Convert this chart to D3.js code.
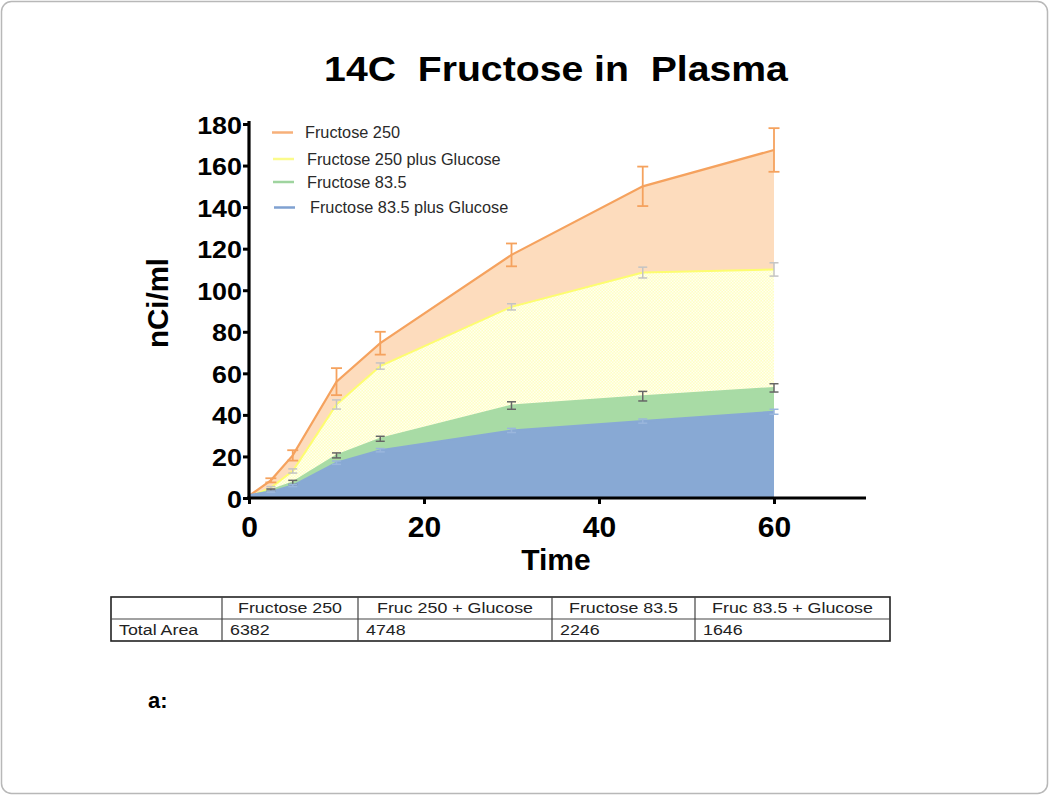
<!DOCTYPE html>
<html><head><meta charset="utf-8">
<script src="https://cdn.jsdelivr.net/npm/d3@7"></script>
<style>
html,body{margin:0;padding:0;background:#fff;}
svg{display:block;font-family:"Liberation Sans",Arial,sans-serif;}
</style></head>
<body>
<svg id="chart" width="1050" height="796"></svg>
<script>
// ---- data ----
const times = [0, 2.5, 5, 10, 15, 30, 45, 60];
const seriesNames = ["Fructose 250", "Fructose 250 plus Glucose", "Fructose 83.5", "Fructose 83.5 plus Glucose"];
const fru250      = [1.0, 8.5, 20.5, 56.0, 74.5, 117.0, 150.0, 167.5];
const fru250Err   = [0, 1.0, 2.5, 6.5, 5.5, 5.5, 9.5, 10.5];
const fru250Glu   = [0.5, 5.0, 13.0, 45.0, 63.5, 92.0, 108.5, 110.0];
const fru250GluErr= [0, 0.5, 1.0, 2.2, 1.5, 1.5, 2.6, 3.2];
const fru835      = [0.8, 3.8, 7.5, 20.5, 28.5, 44.5, 49.0, 53.0];
const fru835Err   = [0, 0.5, 1.0, 1.2, 1.2, 1.8, 2.3, 2.0];
const fru835Glu   = [1.5, 3.0, 6.0, 17.0, 23.0, 32.5, 37.0, 41.5];
const fru835GluErr= [0, 0.3, 0.5, 0.8, 0.8, 1.0, 1.0, 1.2];
const xTicks = [0, 20, 40, 60];
const yTicks = [0, 20, 40, 60, 80, 100, 120, 140, 160, 180];
const tableHeaders = ["", "Fructose 250", "Fruc 250 + Glucose", "Fructose 83.5", "Fruc 83.5 + Glucose"];
const tableRow = ["Total Area", "6382", "4748", "2246", "1646"];

// ---- styles ----
const fills   = ["#fddcbd", "url(#dots)", "#a8dba5", "#88a9d4"];
const strokes = ["#f5a25e", "#fdfd70", "#a8dba5", "#88a9d4"];
const errCols = ["#f5a25e", "#c4c4c4", "#666666", "#9ab6dc"];
const legendCols = ["#f7b07a", "#fbfb8c", "#9fd49f", "#7fa1d1"];

const svg = d3.select("#chart");
const defs = svg.append("defs");
const pat = defs.append("pattern").attr("id","dots").attr("width",3).attr("height",3)
  .attr("patternUnits","userSpaceOnUse");
pat.append("rect").attr("width",3).attr("height",3).attr("fill","#ffffc4");
pat.append("rect").attr("width",1.5).attr("height",1.5).attr("fill","#fffff0");
pat.append("rect").attr("x",1.5).attr("y",1.5).attr("width",1.5).attr("height",1.5).attr("fill","#fffff0");

// frame
svg.append("rect").attr("x",1.5).attr("y",1.5).attr("width",1046).attr("height",792)
  .attr("rx",10).attr("fill","#fff").attr("stroke","#b8b8b8").attr("stroke-width",1.5);

const x = d3.scaleLinear().domain([0,70]).range([249, 861.5]);
const y = d3.scaleLinear().domain([0,180]).range([498, 124]);

const series = [
  {vals: fru250, err: fru250Err},
  {vals: fru250Glu, err: fru250GluErr},
  {vals: fru835, err: fru835Err},
  {vals: fru835Glu, err: fru835GluErr}
];

const area = d3.area().x((d,i)=>x(times[i])).y0(y(0)).y1(d=>y(d));
const line = d3.line().x((d,i)=>x(times[i])).y(d=>y(d));

series.forEach((s,k)=>{
  svg.append("path").attr("d", area(s.vals)).attr("fill", fills[k]);
  svg.append("path").attr("d", line(s.vals)).attr("fill","none")
    .attr("stroke", strokes[k]).attr("stroke-width", k===0?2.2:2);
});

// error bars
series.forEach((s,k)=>{
  const g = svg.append("g").attr("stroke", errCols[k]).attr("stroke-width", k===0?1.8:1.5).attr("fill","none");
  const cw = k===0?5.5:4.5;
  s.vals.forEach((v,i)=>{
    const e = s.err[i]; if(!e) return;
    const xi = x(times[i]);
    g.append("line").attr("x1",xi).attr("x2",xi).attr("y1",y(v-e)).attr("y2",y(v+e));
    g.append("line").attr("x1",xi-cw).attr("x2",xi+cw).attr("y1",y(v-e)).attr("y2",y(v-e));
    g.append("line").attr("x1",xi-cw).attr("x2",xi+cw).attr("y1",y(v+e)).attr("y2",y(v+e));
  });
});

// axes
const yAxis = svg.append("g").attr("transform","translate(249,0)")
  .call(d3.axisLeft(y).tickValues(yTicks).tickSize(6).tickSizeOuter(0));
const xAxis = svg.append("g").attr("transform","translate(0,498)")
  .call(d3.axisBottom(x).tickValues(xTicks).tickSize(6).tickSizeOuter(0));
[yAxis,xAxis].forEach(a=>{
  a.select(".domain").attr("stroke","#000").attr("stroke-width",3.2);
  a.selectAll(".tick line").attr("stroke","#000").attr("stroke-width",3);
});
yAxis.select(".domain").attr("d","M0,121V500");
xAxis.select(".domain").attr("d","M247,0H866");
yAxis.selectAll(".tick text").attr("x",null).attr("dy",null)
  .attr("font-size",24).attr("font-weight","bold").attr("fill","#000")
  .attr("text-anchor","end")
  .attr("transform","translate(-7,9) scale(1.12,1)");
xAxis.selectAll(".tick text").attr("y",null).attr("dy",null)
  .attr("font-size",30).attr("font-weight","bold").attr("fill","#000")
  .attr("transform","translate(0,39)");

// axis titles
svg.append("text").attr("x",556).attr("y",570).attr("text-anchor","middle")
  .attr("font-size",30).attr("font-weight","bold").text("Time");
svg.append("text").attr("transform","translate(168,303) rotate(-90)").attr("text-anchor","middle")
  .attr("font-size",29.5).attr("font-weight","bold").text("nCi/ml");

// title
svg.append("text").attr("transform","translate(556,81) scale(1.12,1)").attr("text-anchor","middle")
  .attr("font-size",35).attr("font-weight","bold").attr("xml:space","preserve")
  .text("14C  Fructose in  Plasma");

// legend
const legY = [132.5, 159, 182, 207.5];
const legX = [272, 273, 273, 274];
const legTX = [305, 307, 307, 310];
seriesNames.forEach((n,k)=>{
  svg.append("line").attr("x1",legX[k]).attr("x2",legX[k]+21).attr("y1",legY[k]).attr("y2",legY[k])
    .attr("stroke",legendCols[k]).attr("stroke-width",2.5);
  svg.append("text").attr("x",legTX[k]).attr("y",legY[k]+5.5).attr("font-size",16.3)
    .attr("fill","#2a2a2a").text(n);
});

// table
const colX = [111, 222, 358, 552, 695, 890];
const rowY = [597, 619, 641];
const tg = svg.append("g");
tg.append("rect").attr("x",colX[0]).attr("y",rowY[0]).attr("width",colX[5]-colX[0]).attr("height",rowY[2]-rowY[0])
  .attr("fill","none").attr("stroke","#222").attr("stroke-width",1.6);
tg.append("line").attr("x1",colX[0]).attr("x2",colX[5]).attr("y1",rowY[1]).attr("y2",rowY[1])
  .attr("stroke","#444").attr("stroke-width",1.2);
colX.slice(1,5).forEach(cx=>{
  tg.append("line").attr("x1",cx).attr("x2",cx).attr("y1",rowY[0]).attr("y2",rowY[2])
    .attr("stroke","#444").attr("stroke-width",1.2);
});
tableHeaders.forEach((h,i)=>{
  if(!h) return;
  const cx = (colX[i]+colX[i+1])/2;
  tg.append("text").attr("transform",`translate(${cx},${rowY[0]+16}) scale(1.15,1)`)
    .attr("text-anchor","middle").attr("font-size",15.5).attr("fill","#222").text(h);
});
tableRow.forEach((v,i)=>{
  tg.append("text").attr("transform",`translate(${colX[i]+8},${rowY[1]+16}) scale(1.15,1)`)
    .attr("font-size",15.5).attr("fill","#222").text(v);
});

// panel label
svg.append("text").attr("x",148).attr("y",708).attr("font-size",22).attr("font-weight","bold").text("a:");
</script>
</body></html>
